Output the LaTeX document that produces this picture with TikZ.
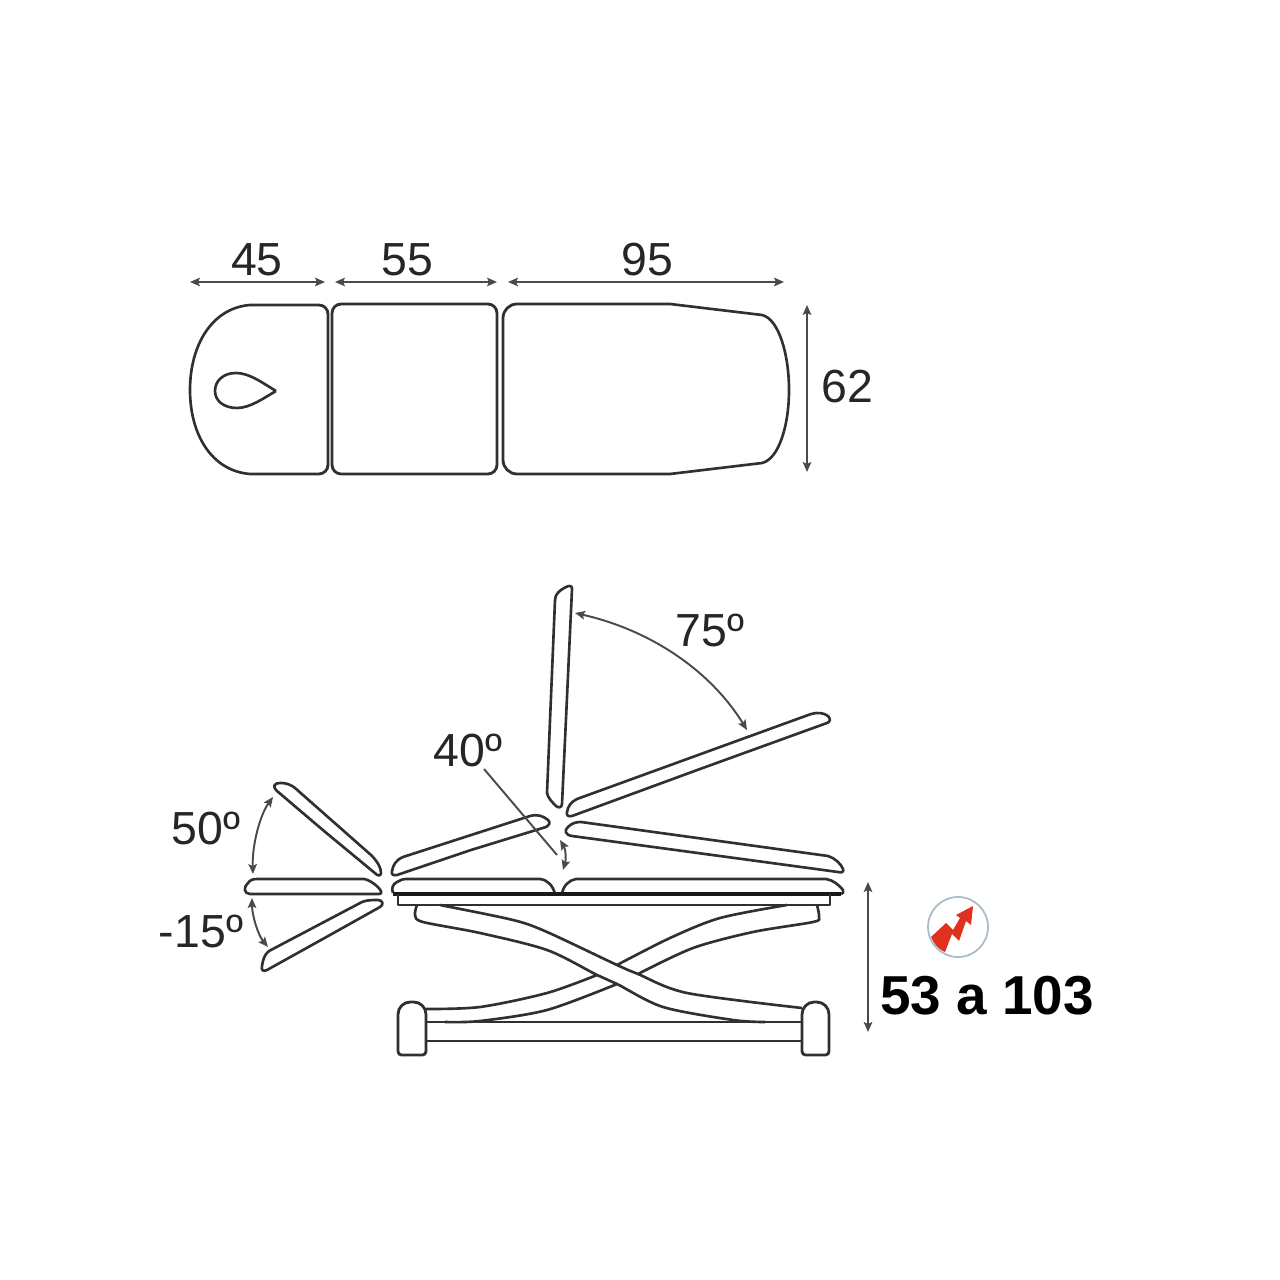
\documentclass[tikz,border=0pt]{standalone}
\usepackage{fontspec}
\setmainfont{Liberation Sans}
\usetikzlibrary{arrows.meta}
\definecolor{inkgray}{HTML}{303030}
\definecolor{dimgray}{HTML}{4A4A4A}
\definecolor{iconred}{HTML}{E0301E}
\definecolor{iconring}{HTML}{A9BCC8}
\tikzstyle{panel} = [draw=inkgray, line width=0.8pt, line join=round, rounded corners=2.6pt]
\tikzstyle{edge} = [draw=inkgray, line width=0.75pt, line join=round]
\tikzstyle{dim} = [draw=dimgray, line width=0.55pt, <->, >={Stealth[length=2.8pt,width=2.4pt,inset=0.5pt]}]
\tikzstyle{size} = [text=black!85, font=\fontsize{13.2pt}{14pt}\selectfont, inner sep=0pt]
\begin{document}
\begin{tikzpicture}[x=0.01cm, y=-0.01cm]
    \useasboundingbox (0,0) rectangle (1280,1280);

    \draw [panel] (250,305) -- (328,305) -- (328,474) -- (250,474);
    \draw [edge] (250,305) .. controls (212,308) and (190,345) .. (190,390) .. controls (190,435) and (212,471) .. (250,474);
    \draw [edge] (276,391) .. controls (264,384) and (250,373) .. (236,373) .. controls (223,373) and (215,381) .. (215,391) .. controls (215,401) and (224,408) .. (237,408) .. controls (250,408) and (264,398) .. (276,391);
    \draw [panel] (332,304) rectangle (497,474);
    \draw [panel, rounded corners=4pt] (670,304) -- (503,304) -- (503,474) -- (670,474);
    \draw [edge] (670,304) -- (762,315) .. controls (779,319) and (789,355) .. (789,390) .. controls (789,425) and (779,459) .. (762,463) -- (670,474);

    \coordinate (a1) at (190,282);
    \coordinate (a2) at (325,282);
    \coordinate (b1) at (335,282);
    \coordinate (b2) at (497,282);
    \coordinate (c1) at (508,282);
    \coordinate (c2) at (784,282);
    \coordinate (d1) at (807,305);
    \coordinate (d2) at (807,472);
    \draw [dim] (a1) -- (a2);
    \draw [dim] (b1) -- (b2);
    \draw [dim] (c1) -- (c2);
    \draw [dim] (d1) -- (d2);
    \node (len45) [size] at (257,260) {45};
    \node (len55) [size] at (407,260) {55};
    \node (len95) [size] at (647,260) {95};
    \node (wid62) [size] at (847,387) {62};

    \draw [edge] (310,894) -- (250,894) .. controls (244,894) and (243,887) .. (248,883) .. controls (250,880) and (253,879) .. (257,879) -- (364,879) .. controls (370,880) and (378,886) .. (381,891) .. controls (382,893) and (381,894) .. (379,894) -- cycle;
    \draw [edge] (324,831) -- (277,791) .. controls (272,786) and (274,783) .. (281,783) .. controls (287,783) and (291,785) .. (295,788) -- (371,855) .. controls (378,862) and (381,868) .. (381,873) .. controls (381,876) and (378,876) .. (376,874) -- cycle;
    \draw [edge] (321,940) -- (267,970) .. controls (263,972) and (261,970) .. (262,966) .. controls (263,960) and (264,955) .. (269,951) -- (362,902) .. controls (367,900) and (372,900) .. (378,900) .. controls (383,900) and (384,905) .. (380,907) -- cycle;

    \draw [edge] (393,893) .. controls (391,888) and (393,884) .. (397,882) .. controls (400,880) and (403,879) .. (407,879) -- (540,879) .. controls (548,880) and (553,886) .. (555,894);
    \draw [edge] (562,894) .. controls (563,886) and (569,880) .. (576,879) -- (826,879) .. controls (833,880) and (839,885) .. (843,890) .. controls (844,892) and (843,894) .. (841,894);
    \draw [draw=black!90, line width=0.95pt] (393,894) -- (841,894);
    \draw [edge] (398,894) -- (398,905) -- (830,905) -- (830,894);
    \draw [edge] (471,850) -- (397,875) .. controls (393,876) and (391,874) .. (392,871) .. controls (393,865) and (396,860) .. (403,857) -- (530,816) .. controls (538,814) and (543,816) .. (548,820) .. controls (551,823) and (549,825) .. (546,827) -- cycle;
    \draw [edge] (705,854) -- (572,836) .. controls (565,835) and (564,830) .. (568,827) .. controls (572,823) and (576,822) .. (581,822) -- (828,856) .. controls (835,858) and (841,864) .. (843,869) .. controls (844,872) and (842,873) .. (838,872) -- cycle;
    \draw [edge] (700,769) -- (572,816) .. controls (568,817) and (566,815) .. (567,812) .. controls (568,806) and (571,802) .. (577,799) -- (811,714) .. controls (818,712) and (824,713) .. (828,716) .. controls (831,719) and (830,722) .. (827,723) -- cycle;
    \draw [edge] (567,697) -- (562,804) .. controls (562,808) and (558,808) .. (556,806) .. controls (552,802) and (548,798) .. (547,793) -- (555,600) .. controls (555,594) and (560,590) .. (566,587) .. controls (570,585) and (572,586) .. (572,589) -- cycle;

    \draw [edge] plot [smooth] coordinates {(417,905) (415,915) (423,922) (480,933) (547,950) (597,975) (617,984) (663,1007) (733,1020) (765,1022)};
    \draw [edge] plot [smooth] coordinates {(440,905) (513,920) (547,932) (617,965) (638,974) (687,993) (802,1008)};
    \draw [edge] plot [smooth] coordinates {(787,905) (720,918) (670,938) (617,965)};
    \draw [edge] plot [smooth] coordinates {(817,905) (819,917) (813,922) (753,932) (693,948) (638,974)};
    \draw [edge] plot [smooth] coordinates {(597,975) (547,993) (480,1007) (426,1009)};
    \draw [edge] plot [smooth] coordinates {(617,984) (547,1010) (480,1021) (445,1022)};

    \draw [panel] (412,1055) [rounded corners=1pt] -- (398,1055) [rounded corners=3.5pt] -- (398,1002) -- (426,1002) [rounded corners=1pt] -- (426,1055) -- cycle;
    \draw [panel] (815,1055) [rounded corners=1pt] -- (802,1055) [rounded corners=3.5pt] -- (802,1002) -- (829,1002) [rounded corners=1pt] -- (829,1055) -- cycle;
    \draw [edge] (426,1022) -- (802,1022);
    \draw [edge] (426,1041) -- (802,1041);

    \coordinate (e1) at (273,797);
    \coordinate (e2) at (253,874);
    \coordinate (f1) at (252,898);
    \coordinate (f2) at (268,947);
    \coordinate (g1) at (575,613);
    \coordinate (g2) at (747,730);
    \coordinate (h1) at (560,840);
    \coordinate (h2) at (563,870);
    \coordinate (j1) at (484,769);
    \coordinate (j2) at (557,855);
    \coordinate (k1) at (868,882);
    \coordinate (k2) at (868,1032);
    \draw [dim] (e1) .. controls (260,815) and (252,845) .. (e2);
    \draw [dim] (f1) .. controls (252,915) and (258,935) .. (f2);
    \draw [dim] (g1) .. controls (650,630) and (710,670) .. (g2);
    \draw [dim] (h1) .. controls (566,850) and (566,860) .. (h2);
    \draw [draw=dimgray, line width=0.55pt] (j1) -- (j2);
    \draw [dim] (k1) -- (k2);
    \node (ang50) [size] at (206,828) {50º};
    \node (ang15) [size] at (201,931) {-15º};
    \node (ang40) [size] at (468,750) {40º};
    \node (ang75) [size] at (710,630) {75º};

    \draw [iconring, line width=0.5pt] (958,927) circle (30);
    \fill [iconred] (931,937) -- (946,923) -- (953,930) -- (960,918) -- (956,915) -- (973,906) -- (971,925) -- (966,921) -- (959,941) -- (952,934) -- (945,952) .. controls (938,949) and (934,944) .. (931,937) -- cycle;
    \node (lift) [inner sep=0pt, font=\fontsize{15.6pt}{18pt}\selectfont\bfseries, text=black] at (987,996) {53 a 103};
\end{tikzpicture}
\end{document}
